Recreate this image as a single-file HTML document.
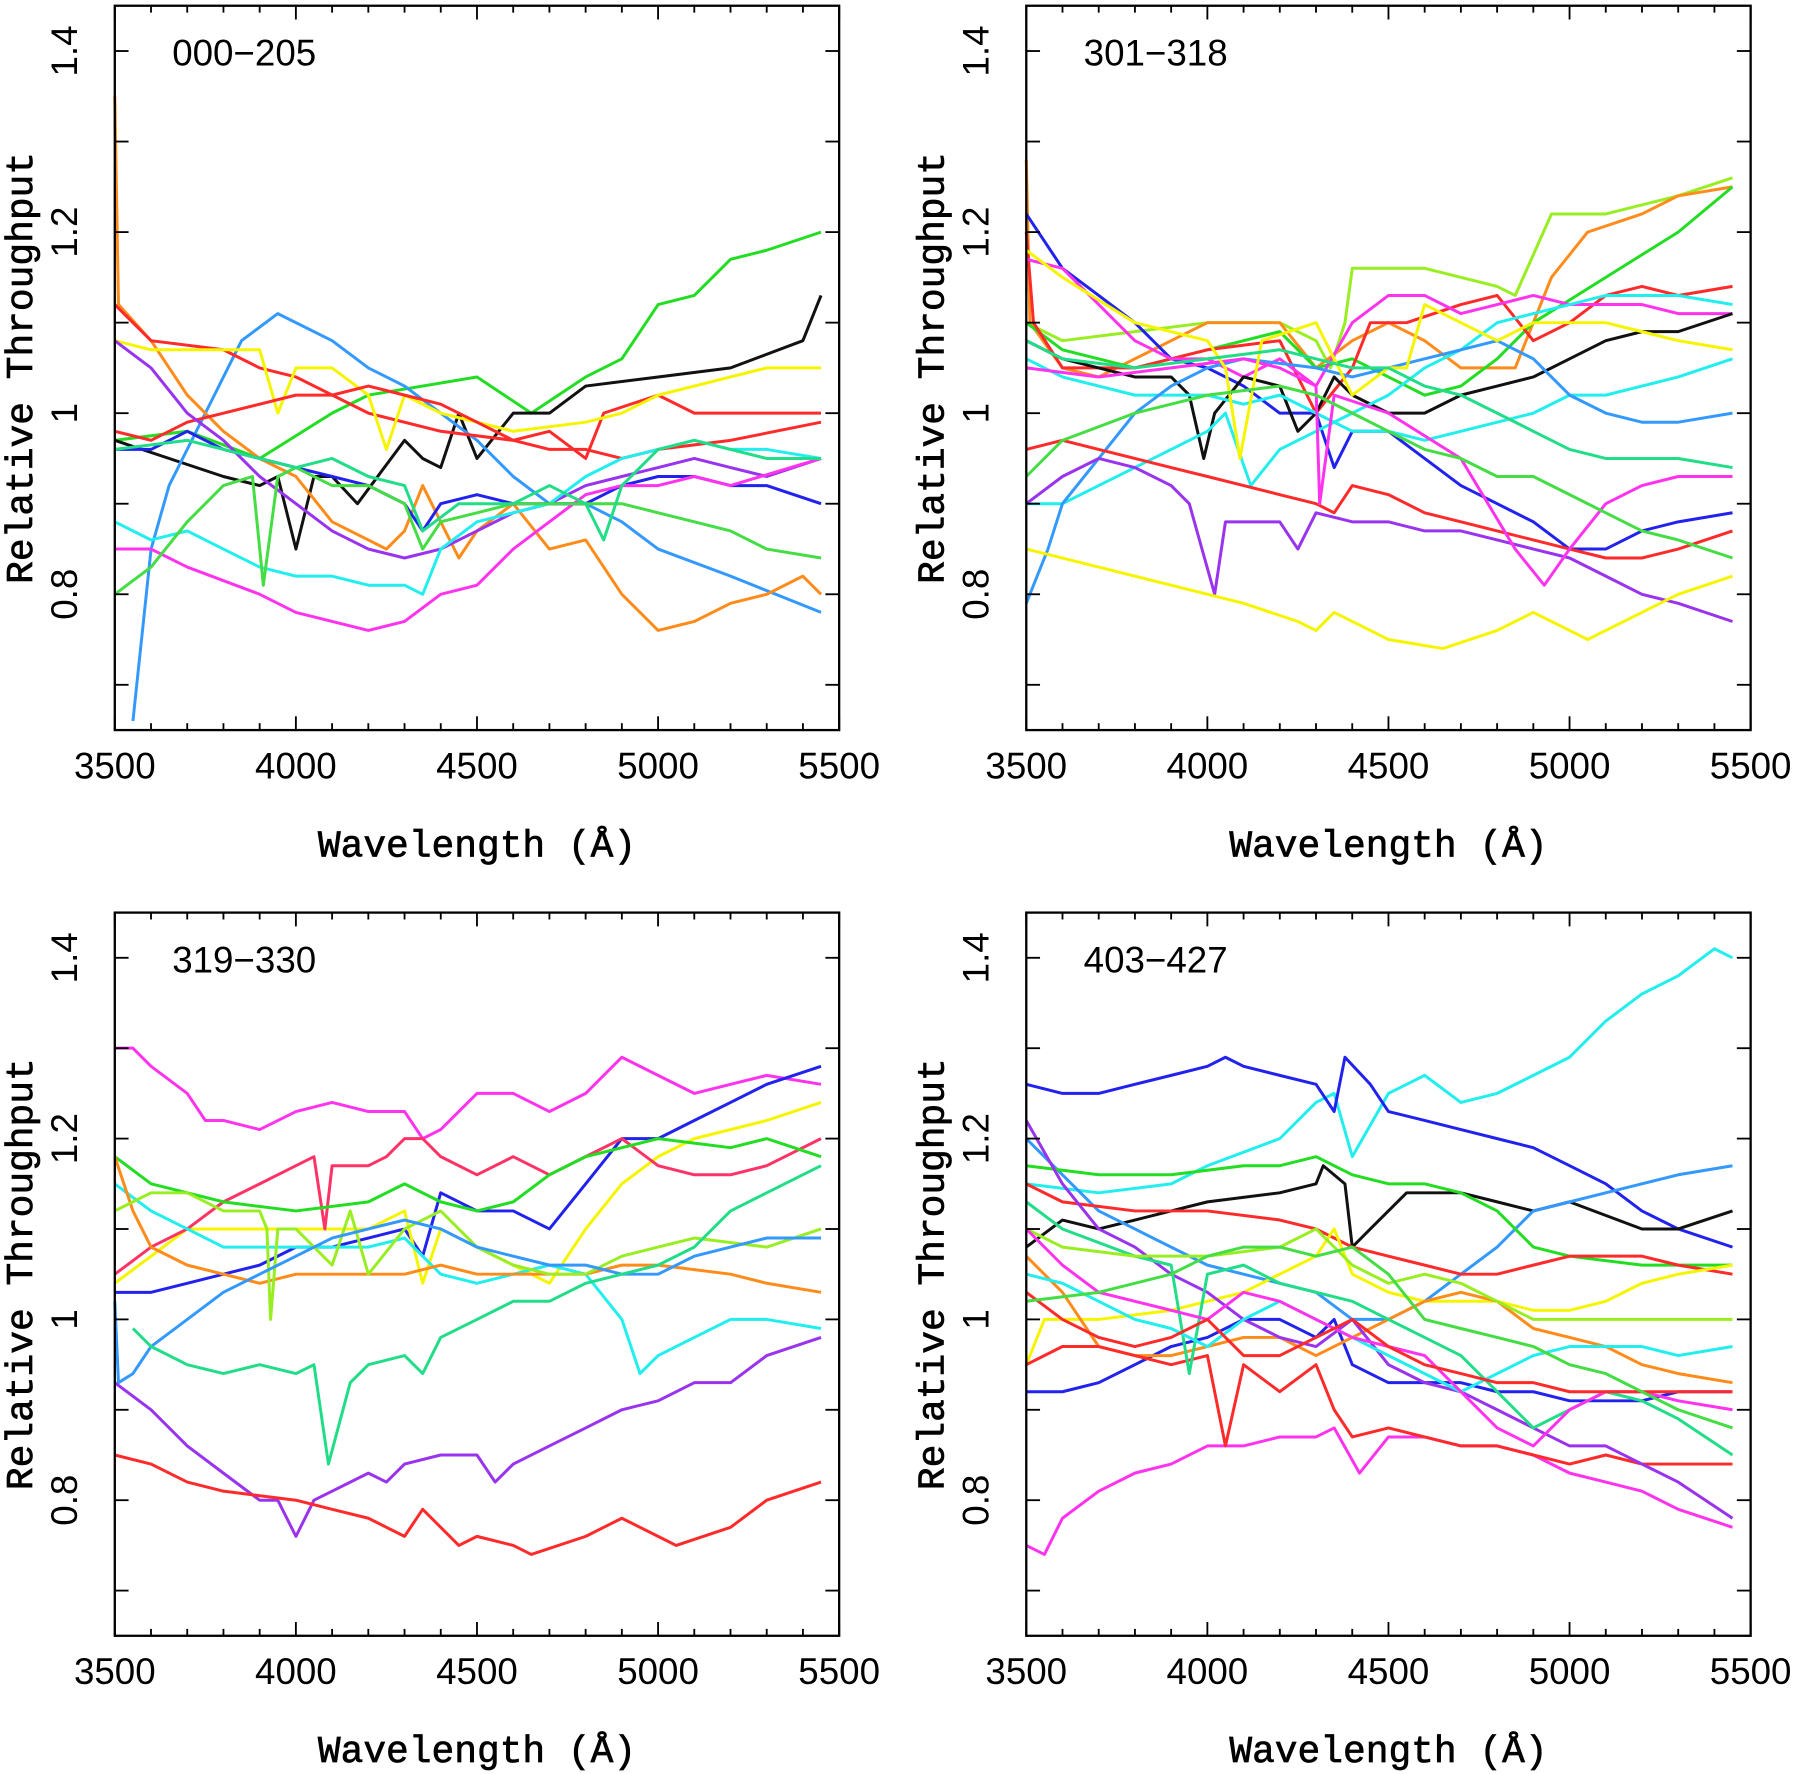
<!DOCTYPE html>
<html><head><meta charset="utf-8"><style>
html,body{margin:0;padding:0;background:#fff;}
svg{display:block;}
</style></head><body>
<svg id="fig" xmlns="http://www.w3.org/2000/svg" width="1800" height="1774" viewBox="0 0 1568 1545.4" preserveAspectRatio="none"></svg>
<script>
const xTicks = [3500, 4000, 4500, 5000, 5500];
const yTickLabels = [0.8, 1, 1.2, 1.4];
const panelTitles = ["000\u2212205", "301\u2212318", "319\u2212330", "403\u2212427"];

const p1Series = [
 {c:"#22dd22", w:[3500,3700,3900,4100,4200,4500,4650,4800,4900,5000,5100,5200,5300,5450], v:[0.97,0.98,0.95,1.0,1.02,1.04,1.0,1.04,1.06,1.12,1.13,1.17,1.18,1.2]},
 {c:"#111111", w:[3500,3800,3900,3950,4000,4050,4100,4170,4300,4350,4400,4450,4500,4600,4700,4800,5000,5200,5400,5450], v:[0.97,0.93,0.92,0.93,0.85,0.93,0.93,0.9,0.97,0.95,0.94,1.0,0.95,1.0,1.0,1.03,1.04,1.05,1.08,1.13]},
 {c:"#3399ff", w:[3550,3600,3650,3750,3850,3950,4100,4200,4300,4400,4500,4600,4700,4800,4900,5000,5200,5450], v:[0.66,0.85,0.92,1.0,1.08,1.11,1.08,1.05,1.03,1.0,0.97,0.93,0.9,0.9,0.88,0.85,0.82,0.78]},
 {c:"#ff8c1a", w:[3500,3510,3600,3700,3800,3900,4000,4100,4250,4300,4350,4400,4450,4500,4600,4700,4800,4900,5000,5100,5200,5300,5400,5450], v:[1.35,1.12,1.08,1.02,0.98,0.95,0.93,0.88,0.85,0.87,0.92,0.88,0.84,0.87,0.9,0.85,0.86,0.8,0.76,0.77,0.79,0.8,0.82,0.8]},
 {c:"#ff2a2a", w:[3500,3600,3800,3900,4000,4200,4400,4600,4700,4800,4850,5000,5100,5200,5450], v:[1.12,1.08,1.07,1.05,1.04,1.0,0.98,0.97,0.98,0.95,1.0,1.02,1.0,1.0,1.0]},
 {c:"#f5f500", w:[3500,3600,3800,3900,3950,4000,4100,4200,4250,4300,4400,4600,4800,4900,5000,5100,5200,5300,5450], v:[1.08,1.07,1.07,1.07,1.0,1.05,1.05,1.02,0.96,1.02,1.0,0.98,0.99,1.0,1.02,1.03,1.04,1.05,1.05]},
 {c:"#ff2a2a", w:[3500,3600,3700,3800,3900,4000,4100,4200,4300,4400,4500,4600,4700,4800,4900,5000,5200,5450], v:[0.98,0.97,0.99,1.0,1.01,1.02,1.02,1.03,1.02,1.01,0.99,0.97,0.96,0.96,0.95,0.96,0.97,0.99]},
 {c:"#9933ee", w:[3500,3600,3700,3800,3900,4000,4100,4200,4300,4400,4500,4600,4700,4800,4900,5000,5100,5200,5300,5450], v:[1.08,1.05,1.0,0.97,0.93,0.9,0.87,0.85,0.84,0.85,0.87,0.89,0.9,0.92,0.93,0.94,0.95,0.94,0.93,0.95]},
 {c:"#2222ee", w:[3500,3600,3700,3800,3900,4000,4100,4200,4300,4350,4400,4500,4600,4700,4800,4900,5000,5100,5200,5300,5450], v:[0.96,0.96,0.98,0.96,0.95,0.94,0.93,0.92,0.9,0.87,0.9,0.91,0.9,0.9,0.9,0.92,0.93,0.93,0.92,0.92,0.9]},
 {c:"#ff33ee", w:[3500,3600,3700,3900,4000,4100,4200,4300,4400,4500,4600,4700,4800,4900,5000,5100,5200,5450], v:[0.85,0.85,0.83,0.8,0.78,0.77,0.76,0.77,0.8,0.81,0.85,0.88,0.91,0.92,0.92,0.93,0.92,0.95]},
 {c:"#22eeee", w:[3500,3600,3700,3800,3900,4000,4100,4200,4300,4350,4400,4500,4600,4700,4800,4900,5000,5100,5200,5300,5450], v:[0.88,0.86,0.87,0.85,0.83,0.82,0.82,0.81,0.81,0.8,0.85,0.88,0.89,0.9,0.93,0.95,0.96,0.97,0.96,0.96,0.95]},
 {c:"#44dd44", w:[3500,3600,3700,3800,3880,3910,3950,4000,4100,4200,4300,4350,4400,4500,4600,4700,4800,4900,5000,5100,5200,5300,5450], v:[0.8,0.83,0.88,0.92,0.93,0.81,0.93,0.94,0.92,0.92,0.9,0.85,0.88,0.89,0.9,0.9,0.9,0.9,0.89,0.88,0.87,0.85,0.84]},
 {c:"#22dd88", w:[3500,3700,3900,4000,4100,4200,4300,4350,4450,4600,4700,4800,4850,4900,5000,5100,5200,5300,5450], v:[0.96,0.97,0.95,0.94,0.95,0.93,0.92,0.87,0.9,0.9,0.92,0.9,0.86,0.92,0.96,0.97,0.96,0.95,0.95]}
];
const p2Series = [
 {c:"#99ee22", w:[3500,3600,3800,4000,4100,4200,4300,4340,4380,4400,4600,4800,4850,4950,5100,5300,5450], v:[1.1,1.08,1.09,1.1,1.1,1.1,1.08,1.05,1.1,1.16,1.16,1.14,1.13,1.22,1.22,1.24,1.26]},
 {c:"#ff8c1a", w:[3500,3510,3600,3700,3800,3900,4000,4200,4300,4400,4500,4600,4700,4800,4850,4950,5050,5200,5300,5450], v:[1.28,1.1,1.05,1.04,1.06,1.08,1.1,1.1,1.05,1.08,1.1,1.08,1.05,1.05,1.05,1.15,1.2,1.22,1.24,1.25]},
 {c:"#22dd22", w:[3500,3600,3800,4000,4200,4300,4400,4500,4600,4700,4800,4900,5100,5300,5450], v:[1.1,1.07,1.05,1.07,1.09,1.05,1.06,1.04,1.02,1.03,1.06,1.1,1.15,1.2,1.25]},
 {c:"#2222ee", w:[3500,3600,3700,3800,3900,4000,4100,4200,4300,4350,4400,4500,4600,4700,4800,4900,5000,5100,5200,5300,5450], v:[1.22,1.16,1.13,1.1,1.06,1.05,1.03,1.0,1.0,0.94,0.98,0.98,0.95,0.92,0.9,0.88,0.85,0.85,0.87,0.88,0.89]},
 {c:"#ff2a2a", w:[3500,3520,3600,3800,4000,4200,4300,4400,4450,4550,4700,4800,4900,5000,5100,5200,5300,5450], v:[1.2,1.1,1.05,1.05,1.07,1.08,1.0,1.05,1.1,1.1,1.12,1.13,1.08,1.1,1.13,1.14,1.13,1.14]},
 {c:"#ff33ee", w:[3500,3600,3700,3800,3900,4000,4100,4200,4300,4400,4500,4600,4700,4800,4900,5000,5100,5200,5300,5450], v:[1.17,1.16,1.12,1.08,1.06,1.06,1.04,1.06,1.03,1.1,1.13,1.13,1.11,1.12,1.13,1.12,1.12,1.12,1.11,1.11]},
 {c:"#111111", w:[3500,3600,3700,3800,3900,3950,3990,4020,4100,4200,4250,4300,4350,4400,4500,4600,4700,4800,4900,5000,5100,5200,5300,5450], v:[1.08,1.06,1.05,1.04,1.04,1.02,0.95,1.0,1.04,1.03,0.98,1.0,1.04,1.02,1.0,1.0,1.02,1.03,1.04,1.06,1.08,1.09,1.09,1.11]},
 {c:"#22eeee", w:[3500,3600,3700,3800,4000,4100,4200,4300,4400,4500,4600,4700,4800,4900,5000,5100,5200,5300,5450], v:[1.06,1.04,1.03,1.02,1.02,1.01,1.02,1.0,0.98,0.98,0.97,0.98,0.99,1.0,1.02,1.02,1.03,1.04,1.06]},
 {c:"#22eeee", w:[3500,3600,3700,3800,3900,4000,4050,4120,4200,4300,4400,4500,4600,4700,4800,5000,5100,5200,5300,5450], v:[0.9,0.9,0.92,0.94,0.96,0.98,1.0,0.92,0.96,0.98,1.0,1.02,1.05,1.07,1.1,1.12,1.13,1.13,1.13,1.12]},
 {c:"#3399ff", w:[3500,3560,3600,3700,3800,3900,4000,4100,4300,4400,4500,4600,4700,4800,4900,5000,5100,5200,5300,5450], v:[0.79,0.85,0.9,0.95,1.0,1.03,1.05,1.06,1.05,1.04,1.05,1.06,1.07,1.08,1.06,1.02,1.0,0.99,0.99,1.0]},
 {c:"#ff2a2a", w:[3500,3600,3700,3800,3900,4000,4100,4200,4300,4350,4400,4500,4600,4700,4800,4900,5000,5100,5200,5300,5450], v:[0.96,0.97,0.96,0.95,0.94,0.93,0.92,0.91,0.9,0.89,0.92,0.91,0.89,0.88,0.87,0.86,0.85,0.84,0.84,0.85,0.87]},
 {c:"#9933ee", w:[3500,3600,3700,3800,3900,3950,4020,4050,4200,4250,4300,4400,4500,4600,4700,4800,4900,5000,5100,5200,5300,5450], v:[0.9,0.93,0.95,0.94,0.92,0.9,0.8,0.88,0.88,0.85,0.89,0.88,0.88,0.87,0.87,0.86,0.85,0.84,0.82,0.8,0.79,0.77]},
 {c:"#ff33ee", w:[3500,3700,3900,4100,4200,4300,4310,4350,4500,4700,4850,4930,5000,5100,5200,5300,5450], v:[1.05,1.04,1.05,1.06,1.05,1.03,0.9,1.02,1.0,0.95,0.85,0.81,0.85,0.9,0.92,0.93,0.93]},
 {c:"#f5f500", w:[3500,3700,3900,4100,4250,4300,4350,4450,4500,4650,4800,4900,5000,5050,5200,5300,5450], v:[0.85,0.83,0.81,0.79,0.77,0.76,0.78,0.76,0.75,0.74,0.76,0.78,0.76,0.75,0.78,0.8,0.82]},
 {c:"#f5f500", w:[3500,3600,3800,4000,4050,4090,4150,4300,4400,4500,4550,4600,4700,4800,4900,5000,5100,5200,5300,5450], v:[1.18,1.15,1.1,1.08,1.05,0.95,1.08,1.1,1.02,1.05,1.05,1.12,1.1,1.08,1.1,1.1,1.1,1.09,1.08,1.07]},
 {c:"#44dd44", w:[3500,3600,3800,4000,4200,4300,4400,4500,4600,4700,4800,4900,5000,5100,5200,5300,5450], v:[0.93,0.97,1.0,1.02,1.03,1.02,1.0,0.98,0.96,0.95,0.93,0.93,0.91,0.89,0.87,0.86,0.84]},
 {c:"#22dd88", w:[3500,3600,3800,4000,4200,4400,4500,4600,4700,4800,4900,5000,5100,5200,5300,5450], v:[1.08,1.06,1.05,1.06,1.07,1.05,1.05,1.03,1.02,1.0,0.98,0.96,0.95,0.95,0.95,0.94]}
];
const p3Series = [
 {c:"#ff33ee", w:[3500,3550,3600,3700,3750,3800,3900,4000,4100,4200,4300,4350,4400,4500,4600,4700,4800,4900,5000,5100,5200,5300,5450], v:[1.3,1.3,1.28,1.25,1.22,1.22,1.21,1.23,1.24,1.23,1.23,1.2,1.21,1.25,1.25,1.23,1.25,1.29,1.27,1.25,1.26,1.27,1.26]},
 {c:"#2222ee", w:[3500,3600,3700,3800,3900,4000,4100,4200,4300,4350,4400,4500,4600,4700,4800,4900,5000,5100,5200,5300,5450], v:[1.03,1.03,1.04,1.05,1.06,1.08,1.08,1.09,1.1,1.07,1.14,1.12,1.12,1.1,1.15,1.2,1.2,1.22,1.24,1.26,1.28]},
 {c:"#f5f500", w:[3500,3600,3700,3800,4000,4200,4300,4350,4400,4500,4700,4800,4900,5000,5100,5300,5450], v:[1.04,1.07,1.1,1.1,1.1,1.1,1.12,1.04,1.1,1.08,1.04,1.1,1.15,1.18,1.2,1.22,1.24]},
 {c:"#ff3366", w:[3500,3600,3700,3800,3900,4000,4050,4080,4100,4200,4250,4300,4350,4400,4500,4600,4700,4800,4900,5000,5100,5200,5300,5450], v:[1.05,1.08,1.1,1.13,1.15,1.17,1.18,1.1,1.17,1.17,1.18,1.2,1.2,1.18,1.16,1.18,1.16,1.18,1.2,1.17,1.16,1.16,1.17,1.2]},
 {c:"#22dd22", w:[3500,3600,3700,3800,4000,4200,4300,4400,4500,4600,4700,4800,4900,5000,5200,5300,5450], v:[1.18,1.15,1.14,1.13,1.12,1.13,1.15,1.13,1.12,1.13,1.16,1.18,1.19,1.2,1.19,1.2,1.18]},
 {c:"#22eeee", w:[3500,3600,3700,3800,4000,4200,4300,4400,4500,4600,4700,4800,4900,4950,5000,5100,5200,5300,5450], v:[1.15,1.12,1.1,1.08,1.08,1.08,1.09,1.05,1.04,1.05,1.06,1.05,1.0,0.94,0.96,0.98,1.0,1.0,0.99]},
 {c:"#ff8c1a", w:[3500,3550,3600,3700,3800,3900,4000,4100,4200,4300,4400,4500,4700,4800,4900,5000,5200,5300,5450], v:[1.18,1.12,1.08,1.06,1.05,1.04,1.05,1.05,1.05,1.05,1.06,1.05,1.05,1.05,1.06,1.06,1.05,1.04,1.03]},
 {c:"#99ee22", w:[3500,3600,3700,3800,3900,3920,3930,3950,4000,4100,4150,4200,4300,4400,4500,4600,4700,4800,4900,5000,5100,5300,5450], v:[1.12,1.14,1.14,1.12,1.12,1.1,1.0,1.1,1.1,1.06,1.12,1.05,1.1,1.12,1.08,1.06,1.05,1.05,1.07,1.08,1.09,1.08,1.1]},
 {c:"#3399ff", w:[3500,3510,3550,3600,3700,3800,3900,4000,4100,4200,4300,4400,4500,4600,4700,4800,4900,5000,5100,5200,5300,5450], v:[1.02,0.93,0.94,0.97,1.0,1.03,1.05,1.07,1.09,1.1,1.11,1.1,1.08,1.07,1.06,1.06,1.05,1.05,1.07,1.08,1.09,1.09]},
 {c:"#22dd88", w:[3550,3600,3700,3800,3900,4000,4050,4090,4150,4200,4300,4350,4400,4500,4600,4700,4800,4900,5000,5100,5200,5300,5450], v:[0.99,0.97,0.95,0.94,0.95,0.94,0.95,0.84,0.93,0.95,0.96,0.94,0.98,1.0,1.02,1.02,1.04,1.05,1.06,1.08,1.12,1.14,1.17]},
 {c:"#9933ee", w:[3500,3600,3700,3800,3900,3950,4000,4050,4100,4200,4250,4300,4400,4500,4550,4600,4700,4800,4900,5000,5100,5200,5300,5450], v:[0.93,0.9,0.86,0.83,0.8,0.8,0.76,0.8,0.81,0.83,0.82,0.84,0.85,0.85,0.82,0.84,0.86,0.88,0.9,0.91,0.93,0.93,0.96,0.98]},
 {c:"#ff2a2a", w:[3500,3600,3700,3800,4000,4100,4200,4300,4350,4400,4450,4500,4600,4650,4800,4900,5000,5050,5200,5300,5450], v:[0.85,0.84,0.82,0.81,0.8,0.79,0.78,0.76,0.79,0.77,0.75,0.76,0.75,0.74,0.76,0.78,0.76,0.75,0.77,0.8,0.82]}
];
const p4Series = [
 {c:"#22eeee", w:[3500,3700,3900,4000,4200,4300,4350,4400,4500,4600,4700,4800,4900,5000,5100,5200,5300,5400,5450], v:[1.15,1.14,1.15,1.17,1.2,1.24,1.25,1.18,1.25,1.27,1.24,1.25,1.27,1.29,1.33,1.36,1.38,1.41,1.4]},
 {c:"#2222ee", w:[3500,3600,3700,3800,3900,4000,4050,4100,4200,4300,4350,4380,4450,4500,4600,4700,4800,4900,5000,5100,5200,5300,5450], v:[1.26,1.25,1.25,1.26,1.27,1.28,1.29,1.28,1.27,1.26,1.23,1.29,1.26,1.23,1.22,1.21,1.2,1.19,1.17,1.15,1.12,1.1,1.08]},
 {c:"#111111", w:[3500,3600,3700,3800,3900,4000,4200,4300,4320,4380,4400,4450,4550,4700,4800,4900,5000,5200,5300,5450], v:[1.08,1.11,1.1,1.11,1.12,1.13,1.14,1.15,1.17,1.15,1.08,1.1,1.14,1.14,1.13,1.12,1.13,1.1,1.1,1.12]},
 {c:"#2222ee", w:[3500,3600,3700,3800,3900,4000,4100,4200,4300,4350,4400,4500,4600,4700,4800,4900,5000,5100,5200,5300,5450], v:[0.92,0.92,0.93,0.95,0.97,0.98,1.0,1.0,0.98,1.0,0.95,0.93,0.93,0.93,0.92,0.92,0.91,0.91,0.91,0.92,0.92]},
 {c:"#ff33ee", w:[3500,3550,3600,3700,3800,3900,4000,4100,4200,4300,4350,4420,4500,4600,4700,4800,4900,5000,5100,5200,5300,5450], v:[0.75,0.74,0.78,0.81,0.83,0.84,0.86,0.86,0.87,0.87,0.88,0.83,0.87,0.87,0.86,0.86,0.85,0.83,0.82,0.81,0.79,0.77]},
 {c:"#3399ff", w:[3500,3600,3700,3800,3900,4000,4100,4200,4300,4400,4500,4600,4700,4800,4900,5000,5100,5200,5300,5450], v:[1.2,1.16,1.12,1.1,1.08,1.06,1.05,1.04,1.03,1.0,1.0,1.02,1.05,1.08,1.12,1.13,1.14,1.15,1.16,1.17]},
 {c:"#22dd22", w:[3500,3700,3900,4100,4200,4300,4400,4500,4600,4700,4800,4900,5000,5200,5300,5450], v:[1.17,1.16,1.16,1.17,1.17,1.18,1.16,1.15,1.15,1.14,1.12,1.08,1.07,1.06,1.06,1.06]},
 {c:"#ff2a2a", w:[3500,3600,3800,4000,4200,4300,4400,4500,4600,4700,4800,4900,5000,5200,5300,5450], v:[1.15,1.13,1.12,1.12,1.11,1.1,1.08,1.07,1.06,1.05,1.05,1.06,1.07,1.07,1.06,1.05]},
 {c:"#f5f500", w:[3500,3550,3700,3900,4100,4200,4300,4350,4400,4500,4600,4700,4800,4900,5000,5100,5200,5300,5450], v:[0.95,1.0,1.0,1.01,1.03,1.05,1.07,1.1,1.05,1.03,1.02,1.02,1.02,1.01,1.01,1.02,1.04,1.05,1.06]},
 {c:"#ff8c1a", w:[3500,3600,3700,3800,3900,4000,4100,4200,4300,4400,4500,4600,4700,4800,4900,5000,5100,5200,5300,5450], v:[1.07,1.03,0.97,0.96,0.96,0.97,0.98,0.98,0.96,0.98,1.0,1.02,1.03,1.02,0.99,0.98,0.97,0.95,0.94,0.93]},
 {c:"#ff2a2a", w:[3500,3600,3700,3800,3900,4000,4050,4100,4200,4300,4350,4400,4500,4600,4700,4800,4900,5000,5100,5200,5300,5450], v:[0.95,0.97,0.97,0.96,0.95,0.96,0.86,0.95,0.92,0.95,0.9,0.87,0.88,0.87,0.86,0.86,0.85,0.84,0.85,0.84,0.84,0.84]},
 {c:"#9933ee", w:[3500,3600,3700,3800,3900,4000,4100,4200,4300,4400,4500,4600,4700,4800,4900,5000,5100,5200,5300,5450], v:[1.22,1.15,1.1,1.08,1.05,1.03,1.0,0.98,0.97,1.0,0.95,0.93,0.92,0.9,0.88,0.86,0.86,0.84,0.82,0.78]},
 {c:"#22dd88", w:[3500,3600,3800,3900,3950,4000,4100,4200,4300,4400,4500,4600,4700,4800,4900,5000,5100,5200,5300,5450], v:[1.13,1.1,1.07,1.06,0.94,1.05,1.06,1.04,1.03,1.02,1.0,0.98,0.96,0.92,0.88,0.9,0.92,0.91,0.89,0.85]},
 {c:"#99ee22", w:[3500,3600,3800,4000,4200,4300,4400,4500,4600,4700,4800,4900,5000,5100,5200,5300,5450], v:[1.1,1.08,1.07,1.07,1.08,1.1,1.06,1.04,1.05,1.04,1.02,1.0,1.0,1.0,1.0,1.0,1.0]},
 {c:"#22eeee", w:[3500,3600,3700,3800,3900,4000,4100,4200,4300,4400,4500,4600,4700,4800,4900,5000,5200,5300,5450], v:[1.05,1.04,1.02,1.0,0.99,0.97,1.0,1.02,1.0,0.98,0.96,0.94,0.92,0.94,0.96,0.97,0.97,0.96,0.97]},
 {c:"#ff33ee", w:[3500,3600,3700,3800,3900,4000,4100,4200,4300,4400,4500,4600,4700,4800,4900,5000,5100,5200,5300,5450], v:[1.1,1.06,1.03,1.02,1.01,1.0,1.03,1.02,1.0,0.98,0.97,0.96,0.92,0.88,0.86,0.9,0.92,0.92,0.91,0.9]},
 {c:"#ff2a2a", w:[3500,3600,3700,3800,3900,4000,4100,4200,4300,4400,4500,4600,4700,4800,4900,5000,5100,5200,5300,5450], v:[1.03,1.0,0.98,0.97,0.98,1.0,0.96,0.96,0.98,1.0,0.97,0.95,0.94,0.93,0.93,0.92,0.92,0.92,0.92,0.92]},
 {c:"#44dd44", w:[3500,3700,3900,4000,4100,4200,4300,4400,4500,4600,4700,4800,4900,5000,5100,5200,5300,5450], v:[1.02,1.03,1.05,1.07,1.08,1.08,1.07,1.08,1.05,1.0,0.99,0.98,0.97,0.95,0.94,0.92,0.9,0.88]}
];
const allSeries = [p1Series, p2Series, p3Series, p4Series];

const NS = "http://www.w3.org/2000/svg";
const svg = document.getElementById("fig");
const boxes = [
  {x0:100, x1:731, top:5, bot:636},
  {x0:894, x1:1525, top:5, bot:636},
  {x0:100, x1:731, top:795, bot:1425},
  {x0:894, x1:1525, top:795, bot:1425}
];
const XMIN=3500, XMAX=5500, YMIN=0.65, YMAX=1.45;
function mk(tag, attrs, parent){ const e=document.createElementNS(NS,tag); for(const k in attrs) e.setAttribute(k,attrs[k]); (parent||svg).appendChild(e); return e; }

boxes.forEach((b, pi) => {
  const g = mk("g", {});
  
  
  const sx = w => b.x0 + (w - XMIN) / (XMAX - XMIN) * (b.x1 - b.x0);
  const sy = v => b.bot - (v - YMIN) / (YMAX - YMIN) * (b.bot - b.top);

  allSeries[pi].forEach((s, si) => {
    const d = s.w.map((w, i) => (i ? "L" : "M") + sx(w).toFixed(1) + "," + sy(s.v[i]).toFixed(1)).join(" ");
    const p = mk("path", {d:d, fill:"none", stroke:s.c, "stroke-width":2.6, "stroke-linejoin":"round"}, g);
    
    
  });

  const fr = mk("rect", {x:b.x0, y:b.top, width:b.x1-b.x0, height:b.bot-b.top, fill:"none", stroke:"#000", "stroke-width":2}, g);
  
  

  for (let w = 3500; w <= 5500; w += 100) {
    const L = (w % 500 === 0) ? 12 : 6;
    const x = sx(w);
    mk("line", {x1:x, y1:b.bot, x2:x, y2:b.bot-L, stroke:"#000", "stroke-width":1.6}, g);
    mk("line", {x1:x, y1:b.top, x2:x, y2:b.top+L, stroke:"#000", "stroke-width":1.6}, g);
  }
  for (let k = 7; k <= 14; k++) {
    const y = sy(k/10);
    mk("line", {x1:b.x0, y1:y, x2:b.x0+12, y2:y, stroke:"#000", "stroke-width":1.6}, g);
    mk("line", {x1:b.x1, y1:y, x2:b.x1-12, y2:y, stroke:"#000", "stroke-width":1.6}, g);
  }
  xTicks.forEach(w => {
    const t = mk("text", {x:sx(w), y:b.bot+42, "text-anchor":"middle", "font-family":"Liberation Sans, sans-serif", "font-size":32}, g);
    t.textContent = w;
    
    
  });
  yTickLabels.forEach(v => {
    const y = sy(v);
    const t = mk("text", {x:0, y:0, transform:`translate(${b.x0-33},${y}) rotate(-90)`, "text-anchor":"middle", "font-family":"Liberation Sans, sans-serif", "font-size":32}, g);
    t.textContent = v;
    
    
  });
  const xt = mk("text", {x:(b.x0+b.x1)/2, y:b.bot+110, "text-anchor":"middle", "font-family":"Liberation Mono, monospace", "font-size":33, "stroke":"#000", "stroke-width":0.6}, g);
  xt.textContent = "Wavelength (\u00C5)";
  
  
  const yt = mk("text", {x:0, y:0, transform:`translate(${b.x0-72},${(b.top+b.bot)/2}) rotate(-90)`, "text-anchor":"middle", "font-family":"Liberation Mono, monospace", "font-size":33, "stroke":"#000", "stroke-width":0.6}, g);
  yt.textContent = "Relative Throughput";
  
  
  const tt = mk("text", {x:b.x0+50, y:b.top+52, "font-family":"Liberation Sans, sans-serif", "font-size":32}, g);
  tt.textContent = panelTitles[pi];
  
  
});
</script>
</body></html>
